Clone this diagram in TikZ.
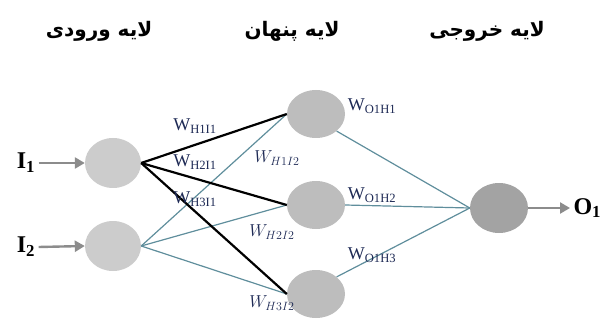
\documentclass[tikz,border=0pt]{standalone}
\usepackage{fontspec}
\setmainfont{Liberation Serif}
\newfontfamily\farsi[Script=Arabic]{DejaVu Sans}
\TeXXeTstate=1
\usetikzlibrary{arrows.meta,shapes.geometric}

\definecolor{inGray}{HTML}{CCCCCC}
\definecolor{hidGray}{HTML}{BDBDBD}
\definecolor{outGray}{HTML}{A3A3A3}
\definecolor{tealLine}{HTML}{5F8E9C}
\definecolor{wBlue}{HTML}{1E2A55}

\tikzset{
  neuron/.style={ellipse, minimum width=#1, minimum height=50pt, inner sep=0pt},
  neuron/.default=56pt,
  title/.style={font=\farsi\bfseries\fontsize{20}{24}\selectfont},
  wlab/.style={text=wBlue, font=\fontsize{18}{20}\selectfont, inner sep=0pt},
  heavy/.style={line width=2.2pt, black},
  light/.style={line width=1.2pt, tealLine},
  feed/.style={line width=2.4pt, gray!90, -{Triangle[length=10pt,width=11pt]}}
}

\begin{document}
\begin{tikzpicture}[x=1pt,y=-1pt]
\useasboundingbox (0,0) rectangle (601,320);

% layer titles
\node[title] (tOut) at (487,31) {\beginR لایه خروجی\endR};
\node[title] (tHid) at (292,31) {\beginR لایه پنهان\endR};
\node[title] (tIn)  at (99,31) {\beginR لایه ورودی\endR};

% neurons
\node[neuron, fill=inGray]  (in1) at (113,163) {};
\node[neuron, fill=inGray]  (in2) at (113,246) {};
\node[neuron=58pt, fill=hidGray, minimum height=48pt] (h1) at (316,114) {};
\node[neuron=58pt, fill=hidGray, minimum height=48pt] (h2) at (316,205) {};
\node[neuron=58pt, fill=hidGray, minimum height=48pt] (h3) at (316,294) {};
\node[neuron=58pt, fill=outGray, minimum height=50pt] (out) at (499,208) {};

% input / output labels
\node[font=\bfseries\fontsize{24}{26}\selectfont] (i1) at (26,163) {I$_{\mathbf 1}$};
\node[font=\bfseries\fontsize{24}{26}\selectfont] (i2) at (26,247) {I$_{\mathbf 2}$};
\node[font=\bfseries\fontsize{24}{26}\selectfont, anchor=west] (o1) at (570,208) {O$_{\mathbf 1}$};
\draw[feed] (i1.east) -- (in1.west);
\draw[feed] (i2.east) -- (in2.west);
\draw[feed] (out.east) -- (o1.west);

% input to hidden
\draw[light] (in2.east) -- (h1.west);
\draw[light] (in2.east) -- (h2.west);
\draw[light] (in2.east) -- (h3.west);
\draw[heavy] (in1.east) -- (h1.west);
\draw[heavy] (in1.east) -- (h2.west);
\draw[heavy] (in1.east) -- (h3.west);

% hidden to output
\draw[light] (h1.south east) -- (out.west);
\draw[light] (h2.east) -- (out.west);
\draw[light] (h3.north east) -- (out.west);

% weights
\node[wlab] (w11) at (195,126) {W$_{\mathrm{H1I1}}$};
\node[wlab] (w21) at (195,162) {W$_{\mathrm{H2I1}}$};
\node[wlab] (w31) at (195,199) {W$_{\mathrm{H3I1}}$};
\node[wlab] (w12) at (277,158) {$W_{H1I2}$};
\node[wlab] (w22) at (272,232) {$W_{H2I2}$};
\node[wlab] (w32) at (272,303) {$W_{H3I2}$};
\node[wlab] (v1) at (372,106) {W$_{\mathrm{O1H1}}$};
\node[wlab] (v2) at (372,195) {W$_{\mathrm{O1H2}}$};
\node[wlab] (v3) at (372,255) {W$_{\mathrm{O1H3}}$};
\end{tikzpicture}
\end{document}
